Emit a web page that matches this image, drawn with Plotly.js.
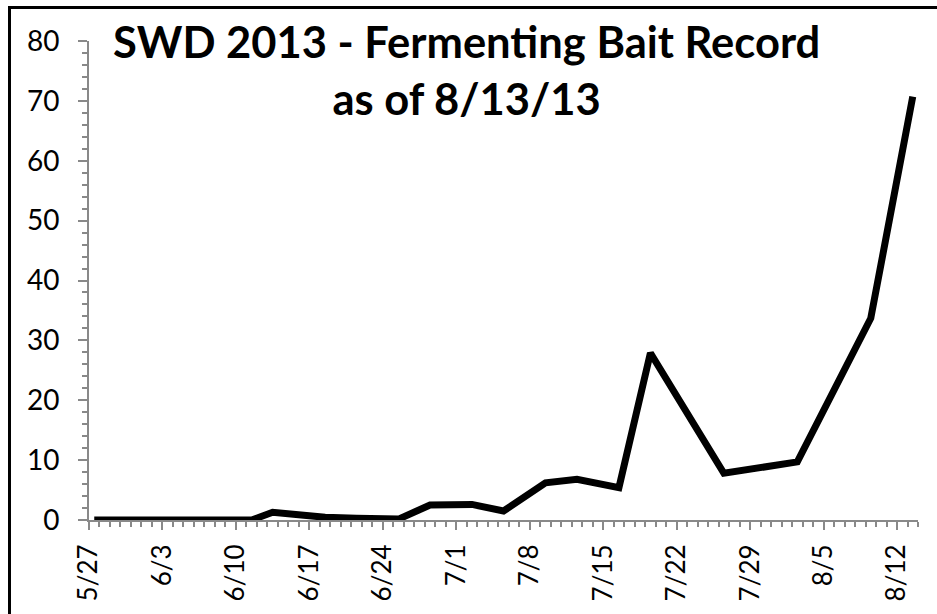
<!DOCTYPE html>
<html>
<head>
<meta charset="utf-8">
<script src="https://cdn.plot.ly/plotly-3.0.1.min.js"></script>
<style>
  html, body { margin: 0; padding: 0; background: #fff; overflow: hidden; }
  #chart { width: 937px; height: 614px; }
  #frame { position: absolute; left: 8px; top: 6px; width: 940px; height: 620px; border: 3px solid #000; pointer-events: none; }
</style>
</head>
<body>
<div id="chart"></div>
<div id="frame"></div>
<script>
// Trap-catch dates (2013) and counts
const dates = ['2013-05-27','2013-06-04','2013-06-11','2013-06-13','2013-06-18','2013-06-21','2013-06-25','2013-06-28','2013-07-02','2013-07-05','2013-07-09','2013-07-12','2013-07-16','2013-07-19','2013-07-26','2013-08-02','2013-08-09','2013-08-13'];
const counts = [0, 0, 0, 1.3, 0.45, 0.3, 0.15, 2.5, 2.6, 1.5, 6.2, 6.8, 5.4, 27.9, 7.8, 9.7, 33.7, 70.7];
const titleText = 'SWD 2013 - Fermenting Bait Record<br>as of 8/13/13';
const yTicks = [0, 10, 20, 30, 40, 50, 60, 70, 80];

// Excel date axis plots each day's value at the middle of the day
const xs = dates.map(d => d + ' 12:00');

const axisGray = '#898989';
const font = 'Lato, "Open Sans", sans-serif';

const trace = {
  x: xs, y: counts, type: 'scatter', mode: 'lines',
  line: { color: '#000000', width: 7 },
  hoverinfo: 'skip'
};

const layout = {
  width: 937, height: 614,
  margin: { l: 89, r: 19, t: 41, b: 94 },
  paper_bgcolor: '#ffffff', plot_bgcolor: '#ffffff',
  showlegend: false,
  font: { family: font, color: '#000' },
  title: {
    text: titleText,
    font: { family: font, size: 43.5, color: '#000', weight: 'bold' },
    xref: 'container', x: 0.498, xanchor: 'center',
    yref: 'container', y: 1 - 58/614, yanchor: 'top'
  },
  xaxis: {
    type: 'date',
    range: ['2013-05-27', '2013-08-14'],
    tick0: '2013-05-27', dtick: 7 * 86400000,
    tickformat: '%-m/%-d',
    tickangle: -90,
    ticks: 'outside', ticklen: 8, tickwidth: 2, tickcolor: axisGray,
    minor: { dtick: 86400000, ticks: 'outside', ticklen: 5, tickwidth: 2, tickcolor: axisGray, showgrid: false },
    showline: true, linecolor: axisGray, linewidth: 2,
    showgrid: false, zeroline: false,
    tickfont: { family: font, size: 26, color: '#000' },
    ticklabelstandoff: 4
  },
  yaxis: {
    range: [0, 80],
    tickvals: yTicks,
    ticks: 'outside', ticklen: 9, tickwidth: 2, tickcolor: axisGray,
    minor: { dtick: 2, ticks: 'outside', ticklen: 5, tickwidth: 2, tickcolor: axisGray, showgrid: false },
    showline: true, linecolor: axisGray, linewidth: 2,
    showgrid: false, zeroline: false,
    tickfont: { family: font, size: 28, color: '#000' },
    ticklabelstandoff: 13
  }
};

Plotly.newPlot('chart', [trace], layout, { staticPlot: true, displayModeBar: false });
</script>
</body>
</html>
